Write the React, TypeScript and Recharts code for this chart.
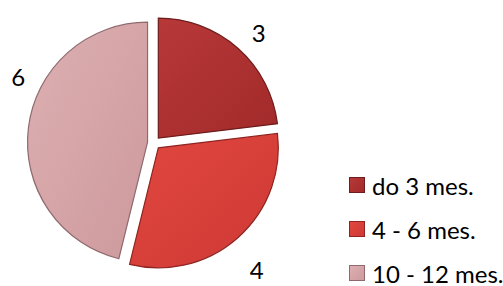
import React from 'react';
import { PieChart, Pie, Cell, Sector, Legend } from 'recharts';

const categories = ['do 3 mes.', '4 - 6 mes.', '10 - 12 mes.'];
const values = [3, 4, 6];

const data = categories.map((name, i) => ({ name, value: values[i] }));

// light / dark stops of each slice, plus its outline
const sliceColors = [
  { light: '#B83838', dark: '#A22A2A', stroke: '#6E1C1C' },
  { light: '#E0473F', dark: '#CF3934', stroke: '#8F2522' },
  { light: '#DDB0B2', dark: '#CD999D', stroke: '#8E6A6E' },
];

const RADIAN = Math.PI / 180;
const EXPLODE = 6.5;
const OUTER = 120;

// label placement tweaks (extra radius, angle shift in degrees), as Excel put them
const labelNudge = [
  { dr: 32, da: -2 },
  { dr: 43, da: -2.5 },
  { dr: 31, da: -19 },
];

const ExplodedSector = (props: any) => {
  const { cx, cy, midAngle } = props;
  const dx = EXPLODE * Math.cos(-midAngle * RADIAN);
  const dy = EXPLODE * Math.sin(-midAngle * RADIAN);
  return <Sector {...props} cx={cx + dx} cy={cy + dy} />;
};

const renderLabel = (props: any) => {
  const { cx, cy, midAngle, outerRadius, value, index } = props;
  const n = labelNudge[index] || { dr: 30, da: 0 };
  const r = outerRadius + n.dr;
  const a = midAngle + n.da;
  const x = cx + r * Math.cos(-a * RADIAN);
  const y = cy + r * Math.sin(-a * RADIAN);
  return (
    <text x={x} y={y} textAnchor="middle" dominantBaseline="central" fill="#000" fontSize={24} fontFamily="Lato">
      {value}
    </text>
  );
};

// legend keeps the slice order, not the library's sorted order
const renderLegend = () => (
  <div>
    {categories.map((name, i) => {
      const c = sliceColors[i];
      return (
        <div key={`leg-${i}`} style={{ display: 'flex', alignItems: 'center', height: 44 }}>
          <svg width={16} height={16} style={{ marginRight: 7 }}>
            <rect x={0.5} y={0.5} width={15} height={15} fill={`url(#grad-${i})`} stroke={c.stroke} strokeWidth={1} />
          </svg>
          <span style={{ fontFamily: 'Lato', fontSize: 24, color: '#000', whiteSpace: 'nowrap' }}>{name}</span>
        </div>
      );
    })}
  </div>
);

const App: React.FC = () => {
  return (
    <div style={{ position: 'absolute', left: 0, top: 0, width: 503, height: 286, background: '#fff' }}>
      <PieChart width={503} height={286} margin={{ top: 0, right: 0, bottom: 0, left: 0 }}>
        <defs>
          {sliceColors.map((c, i) => (
            <linearGradient key={`g-${i}`} id={`grad-${i}`} x1="0" y1="0" x2="1" y2="1">
              <stop offset="0%" stopColor={c.light} />
              <stop offset="100%" stopColor={c.dark} />
            </linearGradient>
          ))}
        </defs>
        <Pie
          data={data}
          dataKey="value"
          nameKey="name"
          cx={154}
          cy={143}
          outerRadius={OUTER}
          startAngle={90}
          endAngle={-270}
          stroke="none"
          shape={ExplodedSector}
          label={renderLabel}
          labelLine={false}
          isAnimationActive={false}
        >
          {data.map((entry, i) => (
            <Cell key={`cell-${i}`} fill={`url(#grad-${i})`} stroke={sliceColors[i].stroke} strokeWidth={1.2} />
          ))}
        </Pie>
        <Legend
          layout="vertical"
          verticalAlign="top"
          align="right"
          content={renderLegend}
          wrapperStyle={{ left: 349, top: 163, width: 160 }}
        />
      </PieChart>
    </div>
  );
};

export default App;
